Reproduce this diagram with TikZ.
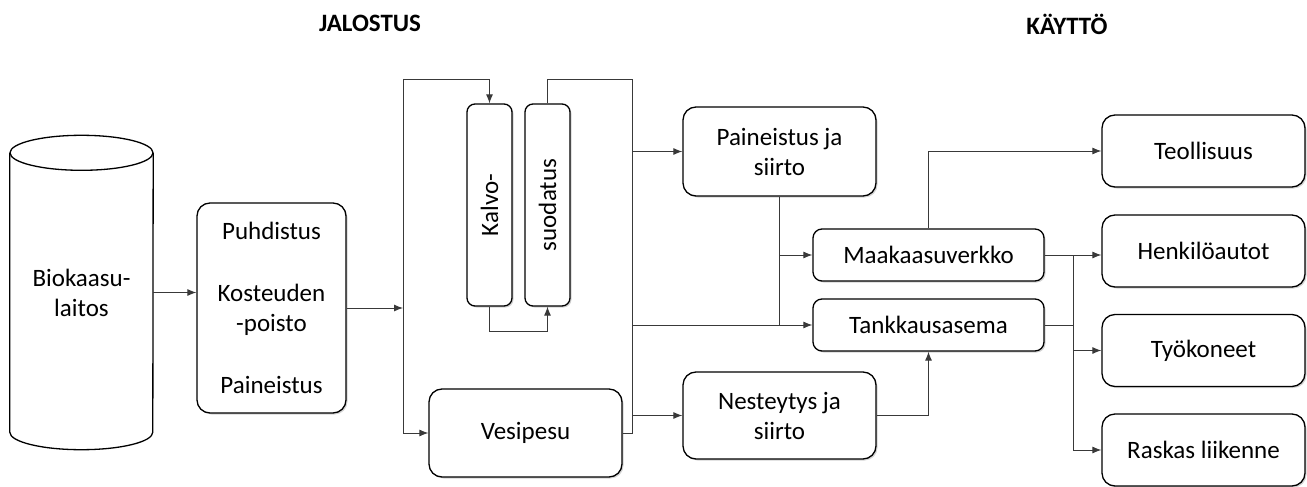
\documentclass[tikz,border=0pt]{standalone}
\usepackage{fontspec}
\setmainfont{Carlito}
\usepackage{tikz}
\usetikzlibrary{shapes,arrows,arrows.meta,shadows}
\tikzstyle{block} = [rectangle, draw, line width=1.3pt, rounded corners=13pt, fill=white, text centered, align=center, font=\fontsize{25}{30}\selectfont, drop shadow={opacity=0.35, shadow xshift=1.5pt, shadow yshift=-1.5pt}]
\tikzstyle{line} = [draw, line width=0.9pt, gray!45!black, -{Latex[length=9pt,width=7pt]}]
\tikzstyle{wire} = [draw, line width=0.9pt, gray!45!black]
\tikzstyle{head} = [font=\fontsize{25}{30}\selectfont\bfseries]

\begin{document}
\begin{tikzpicture}[x=1pt,y=-1pt]
\useasboundingbox (0,0) rectangle (1307,487);
\node [head] (jalostus) at (370,23) {JALOSTUS};
\node [head] (kaytto) at (1067,24) {KÄYTTÖ};
% biokaasulaitos
\node [align=center, minimum width=143, minimum height=279, font=\fontsize{25}{30}\selectfont] (bio) at (81.5,292.5) {Biokaasu-\\laitos};
\draw [line width=1.3pt, fill=white] (bio.north) ellipse (71.5 and 17.5);
\draw [line width=1.3pt] (bio.north west) -- (bio.south west) arc (180:0:71.5 and 17.5) -- (bio.north east);
\node [block, minimum width=149, minimum height=210] (clean) at (271.5,308) {Puhdistus\\[32pt]Kosteuden\\-poisto\\[32pt]Paineistus};
\node [block, rounded corners=8pt, minimum width=45, minimum height=202] (kalvo) at (489.5,205) {};
\node [block, rounded corners=8pt, minimum width=45, minimum height=202] (suod) at (547.5,205) {};
\node [rotate=90, font=\fontsize{25}{30}\selectfont] (kalvotxt) at (kalvo) {Kalvo-};
\node [rotate=90, font=\fontsize{25}{30}\selectfont] (suodtxt) at (suod) {suodatus};
\node [block, minimum width=193, minimum height=88] (vesi) at (525.5,433) {Vesipesu};
\node [block, minimum width=193, minimum height=89] (paine) at (779.5,151.5) {Paineistus ja\\siirto};
\node [block, minimum width=193, minimum height=87] (neste) at (779.5,415.5) {Nesteytys ja\\siirto};
\node [block, rounded corners=9pt, minimum width=231, minimum height=52] (maa) at (928.5,255) {Maakaasuverkko};
\node [block, rounded corners=9pt, minimum width=231, minimum height=52] (tank) at (928.5,325) {Tankkausasema};
\node [block, minimum width=203, minimum height=72] (teol) at (1203.5,151) {Teollisuus};
\node [block, minimum width=203, minimum height=72] (henk) at (1203.5,251) {Henkilöautot};
\node [block, minimum width=203, minimum height=72] (tyo) at (1203.5,350.5) {Työkoneet};
\node [block, minimum width=203, minimum height=72] (rask) at (1203.5,450) {Raskas liikenne};
\coordinate (ltop) at (403,79);
\coordinate (lbot) at (403,433);
\coordinate (rtop) at (632,79);
\coordinate (rbot) at (632,433);
\coordinate (rbus) at (1073,255);
\path [line] (bio.east) -- (bio.east -| clean.west);
\path [line] (clean.east) -- (clean.east -| ltop);
\path [wire] (ltop) -- (lbot);
\path [line] (ltop) -| (kalvo.north);
\path [line] (lbot) -- (vesi.west);
\path [line] (kalvo.south) -- ++(0,25) -| (suod.south);
\path [wire] (suod.north) |- (rtop) -- (rbot) -- (vesi.east);
\path [line] (rbot |- paine.west) -- (paine.west);
\path [line] (rbot |- tank.west) -- (tank.west);
\path [line] (rbot |- neste.west) -- (neste.west);
\path [wire] (paine.south) -- (paine.south |- tank.west);
\path [line] (paine.south |- maa.west) -- (maa.west);
\path [line] (neste.east) -| (tank.south);
\path [line] (maa.north) |- (teol.west);
\path [line] (maa.east) -- (maa.east -| henk.west);
\path [wire] (tank.east) -- (tank.east -| rbus);
\path [line] (rbus) |- (tyo.west);
\path [line] (rbus) |- (rask.west);
\end{tikzpicture}
\end{document}
